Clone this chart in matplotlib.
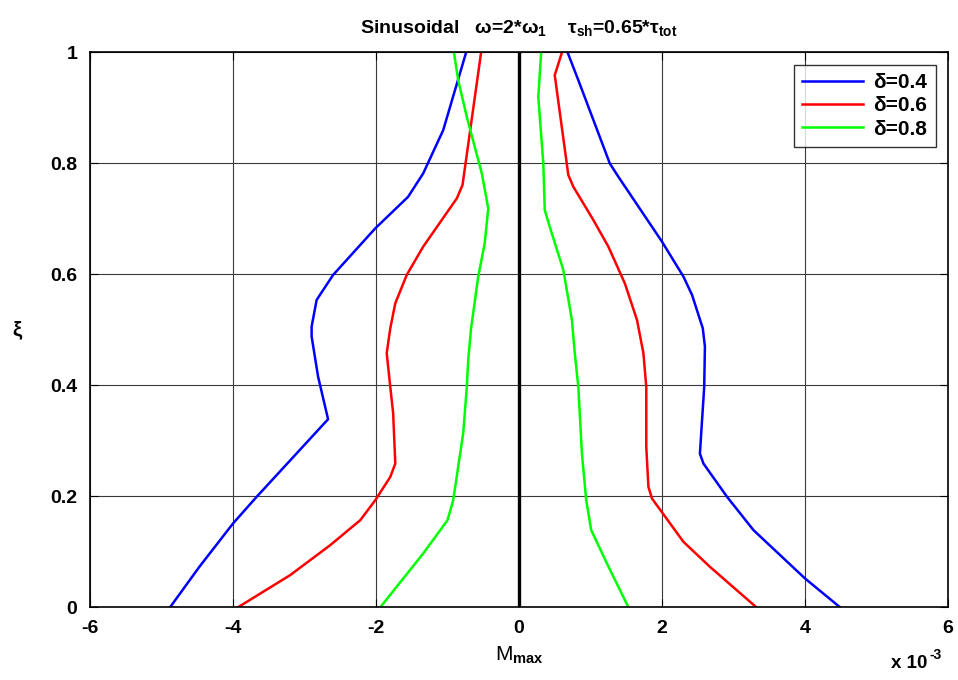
import matplotlib
matplotlib.use("Agg")
import matplotlib.pyplot as plt

plt.rcParams['font.family'] = ['Liberation Sans', 'DejaVu Sans']
plt.rcParams['font.weight'] = 'bold'
plt.rcParams['axes.unicode_minus'] = False
plt.rcParams['mathtext.fontset'] = 'custom'
plt.rcParams['mathtext.rm'] = 'Liberation Sans:bold'
plt.rcParams['mathtext.it'] = 'Liberation Sans:bold'
plt.rcParams['mathtext.bf'] = 'Liberation Sans:bold'

# values in units of 1e-3 (axis shows "x 10^-3")
# delta = 0.4
xi_b_neg = [1.0, 0.860, 0.782, 0.740, 0.683, 0.599, 0.554, 0.506, 0.488, 0.416, 0.339, 0.199, 0.151, 0.073, 0.0]
m_b_neg = [-0.74, -1.06, -1.34, -1.55, -2.01, -2.60, -2.83, -2.90, -2.90, -2.81, -2.67, -3.67, -4.00, -4.47, -4.88]
xi_b_pos = [1.0, 0.950, 0.800, 0.776, 0.659, 0.596, 0.563, 0.503, 0.470, 0.397, 0.277, 0.259, 0.199, 0.139, 0.052, 0.0]
m_b_pos = [0.68, 0.83, 1.27, 1.39, 2.00, 2.30, 2.42, 2.57, 2.60, 2.59, 2.53, 2.58, 2.91, 3.28, 4.00, 4.49]

# delta = 0.6
xi_r_neg = [1.0, 0.761, 0.737, 0.650, 0.599, 0.548, 0.503, 0.458, 0.397, 0.350, 0.259, 0.235, 0.193, 0.157, 0.112, 0.058, 0.0]
m_r_neg = [-0.53, -0.79, -0.87, -1.34, -1.57, -1.73, -1.80, -1.85, -1.80, -1.76, -1.73, -1.80, -2.01, -2.22, -2.64, -3.20, -3.93]
xi_r_pos = [1.0, 0.959, 0.779, 0.758, 0.698, 0.650, 0.584, 0.518, 0.458, 0.397, 0.289, 0.217, 0.196, 0.118, 0.073, 0.0]
m_r_pos = [0.60, 0.50, 0.69, 0.76, 1.04, 1.25, 1.48, 1.65, 1.74, 1.78, 1.78, 1.81, 1.86, 2.30, 2.67, 3.32]

# delta = 0.8
xi_g_neg = [1.0, 0.950, 0.884, 0.782, 0.719, 0.656, 0.596, 0.503, 0.446, 0.397, 0.314, 0.193, 0.157, 0.097, 0.0]
m_g_neg = [-0.91, -0.85, -0.73, -0.52, -0.43, -0.48, -0.57, -0.67, -0.71, -0.73, -0.78, -0.92, -1.00, -1.34, -1.94]
xi_g_pos = [1.0, 0.920, 0.800, 0.716, 0.686, 0.608, 0.518, 0.458, 0.397, 0.277, 0.193, 0.139, 0.079, 0.0]
m_g_pos = [0.31, 0.27, 0.34, 0.36, 0.43, 0.62, 0.74, 0.78, 0.83, 0.88, 0.94, 1.01, 1.23, 1.53]

labels = ['δ=0.4', 'δ=0.6', 'δ=0.8']
colors = ['#0000ff', '#ff0000', '#00ff00']

fig = plt.figure(figsize=(9.58, 6.80), dpi=100)
ax = fig.add_axes([0.0939, 0.1069, 0.8957, 0.8159])

lw = 1.8
ax.plot(m_b_neg, xi_b_neg, color=colors[0], lw=lw, label=labels[0])
ax.plot(m_r_neg, xi_r_neg, color=colors[1], lw=lw, label=labels[1])
ax.plot(m_g_neg, xi_g_neg, color=colors[2], lw=lw, label=labels[2])
ax.plot(m_b_pos, xi_b_pos, color=colors[0], lw=lw)
ax.plot(m_r_pos, xi_r_pos, color=colors[1], lw=lw)
ax.plot(m_g_pos, xi_g_pos, color=colors[2], lw=lw)
ax.axvline(0, color='black', lw=2.4)

ax.set_xlim(-6, 6)
ax.set_ylim(0, 1)
ax.set_xticks([-6, -4, -2, 0, 2, 4, 6])
ax.set_yticks([0, 0.2, 0.4, 0.6, 0.8, 1])
ax.set_yticklabels(['0', '0.2', '0.4', '0.6', '0.8', '1'])
ax.grid(True, color='#3a3a3a', lw=0.8, ls='-')
ax.set_axisbelow(True)
ax.tick_params(direction='in', length=6, width=0.8, top=True, right=True,
               labelsize=14)
ax.tick_params(axis='x', pad=9)
ax.tick_params(axis='y', pad=9)
for s in ax.spines.values():
    s.set_linewidth(1.2)

ax.set_title(r'Sinusoidal   $\omega$=2*$\omega_1$    $\tau_{sh}$=0.65*$\tau_{tot}$',
             fontsize=14, fontweight='bold', pad=14)
ax.set_xlabel(r'M$_{max}$', fontsize=15, labelpad=6)
fig.text(17 / 958, 1 - 330 / 680, 'ξ', fontsize=15, fontweight='bold',
         ha='center', va='center')
# multiplier text, like matlab's "x 10^-3"
fig.text(891 / 958, 1 - 664 / 680, 'x 10', fontsize=13.5, fontweight='bold',
         va='center')
fig.text(929 / 958, 1 - 655 / 680, '-3', fontsize=10, fontweight='bold',
         va='center')

leg = ax.legend(loc='upper right', fontsize=15, frameon=True, fancybox=False,
                edgecolor='black', handlelength=2.9, borderaxespad=0.6,
                labelspacing=0.2, handletextpad=0.5, borderpad=0.4)
leg.get_frame().set_linewidth(1.0)

fig.savefig('out.png', dpi=100)
